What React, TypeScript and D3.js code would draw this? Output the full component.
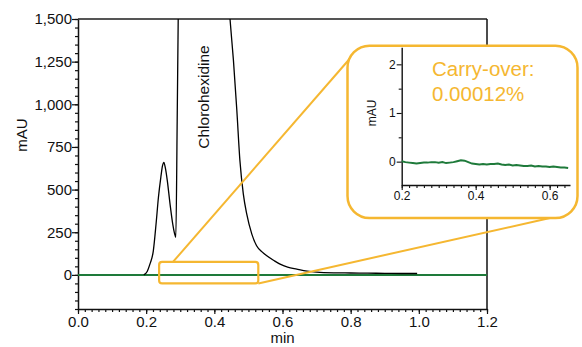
import React, { useEffect, useRef } from "react";
import * as d3 from "d3";

// ---- data ----
const sampleTrace: [number, number][] = [
  [0.193, 0], [0.203, 20], [0.211, 63], [0.221, 141], [0.229, 298], [0.236, 455],
  [0.243, 572], [0.248, 640], [0.252, 660], [0.256, 630], [0.262, 553], [0.27, 416],
  [0.278, 298], [0.283, 245], [0.287, 220], [0.291, 900], [0.294, 1500], [0.3, 2400],
  [0.33, 3200], [0.4, 3200], [0.43, 2000], [0.446, 1500], [0.456, 1259], [0.466, 965],
  [0.475, 671], [0.485, 475], [0.495, 357], [0.51, 239], [0.524, 171], [0.54, 135],
  [0.554, 112], [0.575, 84], [0.593, 63], [0.615, 46], [0.642, 34], [0.672, 22],
  [0.7, 16], [0.75, 12], [0.8, 11], [0.85, 10], [0.9, 9], [0.95, 8], [0.995, 8],
];

const blankTimes = [
  0.2, 0.21, 0.22, 0.23, 0.24, 0.25, 0.26, 0.27, 0.28, 0.29, 0.3, 0.31, 0.32, 0.33, 0.34,
  0.35, 0.36, 0.37, 0.38, 0.39, 0.4, 0.41, 0.42, 0.43, 0.44, 0.45, 0.46, 0.47, 0.48, 0.49,
  0.5, 0.51, 0.52, 0.53, 0.54, 0.55, 0.56, 0.57, 0.58, 0.59, 0.6, 0.61, 0.62, 0.63, 0.64, 0.65,
];
const blankValues = [
  0.01, -0.01, -0.02, -0.03, -0.04, -0.03, -0.02, -0.02, -0.01, -0.01, -0.02, -0.01, -0.03,
  -0.02, -0.01, 0.01, 0.03, 0.02, -0.01, -0.04, -0.05, -0.06, -0.05, -0.06, -0.05, -0.05,
  -0.04, -0.06, -0.07, -0.06, -0.08, -0.07, -0.08, -0.09, -0.09, -0.08, -0.1, -0.09, -0.1,
  -0.1, -0.11, -0.1, -0.11, -0.12, -0.12, -0.13,
];
const blankMain: [number, number][] = [[0, 0], [1.2, 0]];

const mainYTicks = [0, 250, 500, 750, 1000, 1250, 1500];
const mainXTicks = [0, 0.2, 0.4, 0.6, 0.8, 1.0, 1.2];
const insetYTicks = [0, 1, 2];
const insetXTicks = [0.2, 0.4, 0.6];

const peakLabel = "Chlorohexidine";
const carryLines = ["Carry-over:", "0.00012%"];
const zoomWindow = { t0: 0.238, t1: 0.529, v0: -50, v1: 76 };

const YEL = "#F5B731";
const GRN = "#1E7A3A";
const FONT = "'Liberation Sans', Arial, Helvetica, sans-serif";

export default function App() {
  const ref = useRef<SVGSVGElement>(null);

  useEffect(() => {
    const svg = d3.select(ref.current);
    svg.selectAll("*").remove();

    const L = 78, R = 487, T = 19, B = 309;
    const x = d3.scaleLinear().domain([0, 1.2]).range([L, R]);
    const y = d3.scaleLinear().domain([-200, 1500]).range([B, T]);

    svg.append("defs").append("clipPath").attr("id", "plotclip")
      .append("rect").attr("x", L).attr("y", T).attr("width", R - L).attr("height", B - T);

    // frame top / right
    svg.append("line").attr("x1", L).attr("x2", R).attr("y1", T).attr("y2", T)
      .attr("stroke", "#555").attr("stroke-width", 2);
    svg.append("line").attr("x1", R).attr("x2", R).attr("y1", T).attr("y2", B)
      .attr("stroke", "#111").attr("stroke-width", 1.5);

    // axes
    const yMinor = svg.append("g").attr("transform", `translate(${L},0)`)
      .call(d3.axisLeft(y).tickValues(d3.range(-200, 1501, 50)).tickSize(3).tickSizeOuter(0).tickFormat(() => ""));
    yMinor.select(".domain").remove();
    const yMajor = svg.append("g").attr("transform", `translate(${L},0)`)
      .call(d3.axisLeft(y).tickValues(mainYTicks).tickSize(6).tickSizeOuter(0).tickFormat(d3.format(",")));
    const xMinor = svg.append("g").attr("transform", `translate(0,${B})`)
      .call(d3.axisBottom(x).tickValues(d3.range(0, 1.2001, 0.02)).tickSize(3).tickSizeOuter(0).tickFormat(() => ""));
    xMinor.select(".domain").remove();
    const xMajor = svg.append("g").attr("transform", `translate(0,${B})`)
      .call(d3.axisBottom(x).tickValues(mainXTicks).tickSize(5).tickSizeOuter(0).tickFormat(d3.format(".1f")));
    [yMinor, yMajor, xMinor, xMajor].forEach((g) => {
      g.selectAll("line").attr("stroke", "#111").attr("stroke-width", 1.2);
      g.selectAll(".domain").attr("stroke", "#111").attr("stroke-width", 1.5);
      g.selectAll("text").attr("fill", "#111").style("font-family", FONT).style("font-size", "15px");
    });
    yMajor.selectAll("text").attr("x", -6);
    xMajor.selectAll("text").attr("y", 7);

    svg.append("text").attr("x", (L + R) / 2).attr("y", 343).attr("text-anchor", "middle")
      .style("font-family", FONT).style("font-size", "15px").attr("fill", "#111").text("min");
    svg.append("text").attr("transform", "translate(27,135) rotate(-90)").attr("text-anchor", "middle")
      .style("font-family", FONT).style("font-size", "15px").attr("fill", "#111").text("mAU");

    // green blank baseline in main
    const line = d3.line<[number, number]>().x((d) => x(d[0])).y((d) => y(d[1]));
    svg.append("path").attr("d", line(blankMain)).attr("fill", "none").attr("stroke", GRN).attr("stroke-width", 2);

    // sample trace
    const sampleLine = d3.line<[number, number]>().x((d) => x(d[0])).y((d) => y(d[1])).curve(d3.curveMonotoneX);
    svg.append("path").attr("d", sampleLine(sampleTrace)).attr("clip-path", "url(#plotclip)")
      .attr("fill", "none").attr("stroke", "#000").attr("stroke-width", 1.3);

    // peak label
    svg.append("text").attr("transform", "translate(209,97) rotate(-90)").attr("text-anchor", "middle")
      .style("font-family", FONT).style("font-size", "15.5px").attr("fill", "#111").text(peakLabel);

    // zoom window rect
    const zx0 = x(zoomWindow.t0), zx1 = x(zoomWindow.t1), zy0 = y(zoomWindow.v1), zy1 = y(zoomWindow.v0);

    // inset box geometry
    const IL = 347.5, IR = 577.5, IT = 45.7, IB = 218;

    // connectors
    svg.append("line").attr("x1", 173).attr("y1", zy0).attr("x2", 353).attr("y2", 55)
      .attr("stroke", YEL).attr("stroke-width", 2);
    svg.append("line").attr("x1", zx1).attr("y1", zy1).attr("x2", 550).attr("y2", IB)
      .attr("stroke", YEL).attr("stroke-width", 2);

    svg.append("rect").attr("x", zx0).attr("y", zy0).attr("width", zx1 - zx0).attr("height", zy1 - zy0)
      .attr("rx", 3).attr("fill", "none").attr("stroke", YEL).attr("stroke-width", 2.2);

    svg.append("rect").attr("x", IL).attr("y", IT).attr("width", IR - IL).attr("height", IB - IT)
      .attr("rx", 22).attr("fill", "#fff").attr("stroke", YEL).attr("stroke-width", 2.5);

    // inset chart
    const ix = d3.scaleLinear().domain([0.2, 0.655]).range([401.7, 570]);
    const iy = d3.scaleLinear().domain([-0.48, 2.35]).range([185, 47.3]);

    const iyMinor = svg.append("g").attr("transform", `translate(401.7,0)`)
      .call(d3.axisLeft(iy).tickValues([0.5, 1.5]).tickSize(3).tickSizeOuter(0).tickFormat(() => ""));
    iyMinor.select(".domain").remove();
    const iyMajor = svg.append("g").attr("transform", `translate(401.7,0)`)
      .call(d3.axisLeft(iy).tickValues(insetYTicks).tickSize(5).tickSizeOuter(0).tickFormat(d3.format("d")));
    const ixMinor = svg.append("g").attr("transform", `translate(0,185)`)
      .call(d3.axisBottom(ix).tickValues(d3.range(0.2, 0.655, 0.02)).tickSize(3).tickSizeOuter(0).tickFormat(() => ""));
    ixMinor.select(".domain").remove();
    const ixMajor = svg.append("g").attr("transform", `translate(0,185)`)
      .call(d3.axisBottom(ix).tickValues(insetXTicks).tickSize(5).tickSizeOuter(0).tickFormat(d3.format(".1f")));
    [iyMinor, iyMajor, ixMinor, ixMajor].forEach((g) => {
      g.selectAll("line").attr("stroke", "#111").attr("stroke-width", 1.1);
      g.selectAll(".domain").attr("stroke", "#111").attr("stroke-width", 1.4);
      g.selectAll("text").attr("fill", "#111").style("font-family", FONT).style("font-size", "12px");
    });
    iyMajor.selectAll("text").attr("x", -6);
    ixMajor.selectAll("text").attr("y", 6);

    svg.append("text").attr("transform", "translate(376,113) rotate(-90)").attr("text-anchor", "middle")
      .style("font-family", FONT).style("font-size", "12px").attr("fill", "#111").text("mAU");

    const blank: [number, number][] = blankTimes.map((t, i) => [t, blankValues[i]]);
    const iline = d3.line<[number, number]>().x((d) => ix(d[0])).y((d) => iy(d[1]));
    svg.append("path").attr("d", iline(blank)).attr("fill", "none").attr("stroke", GRN).attr("stroke-width", 2);

    carryLines.forEach((s, i) => {
      svg.append("text").attr("x", 432).attr("y", 76 + i * 25)
        .style("font-family", FONT).style("font-size", "20.5px").attr("fill", YEL).text(s);
    });
  }, []);

  return (
    <svg ref={ref} width={582} height={347} style={{ position: "absolute", left: 0, top: 0, background: "#fff" }} />
  );
}
